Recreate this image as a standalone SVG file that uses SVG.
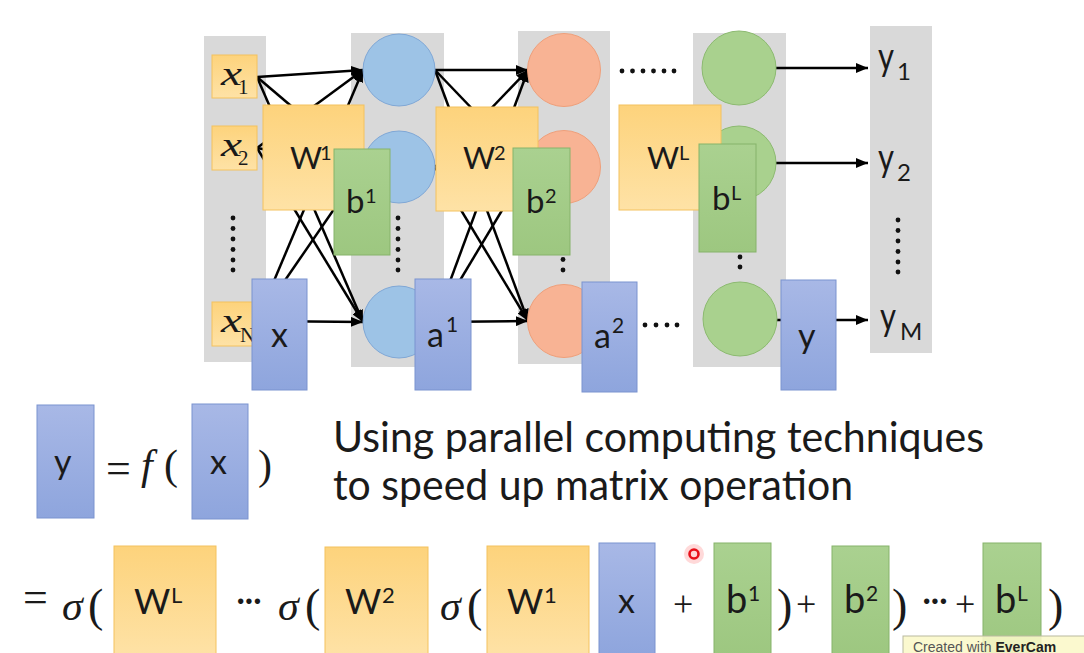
<svg xmlns="http://www.w3.org/2000/svg" width="1084" height="653" viewBox="0 0 1084 653">
<defs>
<linearGradient id="gO" x1="0" y1="0" x2="0" y2="1"><stop offset="0" stop-color="#fdd37c"/><stop offset="1" stop-color="#fee2a6"/></linearGradient>
<linearGradient id="gB" x1="0" y1="0" x2="0" y2="1"><stop offset="0" stop-color="#a8b8e6"/><stop offset="1" stop-color="#8ea5dd"/></linearGradient>
<linearGradient id="gG" x1="0" y1="0" x2="0" y2="1"><stop offset="0" stop-color="#aad190"/><stop offset="1" stop-color="#9dc780"/></linearGradient>
<marker id="ah" markerUnits="userSpaceOnUse" markerWidth="12" markerHeight="10" refX="12" refY="5" orient="auto"><path d="M0,0 L12,5 L0,10 z" fill="#000"/></marker>
<style>
.col{fill:#d9d9d9}
.ob{fill:url(#gO);stroke:#f4c25e;stroke-width:1}
.bb{fill:url(#gB);stroke:#7b93cf;stroke-width:1}
.gb{fill:url(#gG);stroke:#86b36a;stroke-width:1}
.cb{fill:#9dc3e6;stroke:#7fa7d6;stroke-width:1}
.co{fill:#f8b394;stroke:#ef9f7a;stroke-width:1}
.cg{fill:#a9d18e;stroke:#8cba70;stroke-width:1}
.ln{stroke:#000;stroke-width:2.5;fill:none;marker-end:url(#ah)}
.s{font-family:Lato,'Open Sans',sans-serif;fill:#1a1a1a}
.m{font-family:'Liberation Serif','DejaVu Serif',serif;fill:#1a1a1a}
.mi{font-family:'Liberation Serif','DejaVu Serif',serif;font-style:italic;fill:#1a1a1a}
.d{fill:#111}
</style>
</defs>
<rect width="1084" height="653" fill="#fff"/>

<g id="columns">
<rect class="col" x="204" y="36" width="62" height="326"/>
<rect class="col" x="351" y="33" width="93" height="334"/>
<rect class="col" x="518" y="31" width="92" height="333"/>
<rect class="col" x="693" y="33" width="93" height="334"/>
<rect class="col" x="870" y="26" width="62" height="327"/>
</g>

<g id="connectors">
<line class="ln" x1="257" y1="77" x2="363" y2="70"/>
<line class="ln" x1="257" y1="77" x2="363" y2="167"/>
<line class="ln" x1="257" y1="77" x2="363" y2="322"/>
<line class="ln" x1="257" y1="148" x2="363" y2="70"/>
<line class="ln" x1="257" y1="148" x2="363" y2="167"/>
<line class="ln" x1="257" y1="148" x2="363" y2="322"/>
<line class="ln" x1="257" y1="321" x2="363" y2="70"/>
<line class="ln" x1="257" y1="321" x2="363" y2="167"/>
<line class="ln" x1="257" y1="321" x2="363" y2="322"/>
<line class="ln" x1="435" y1="70" x2="528" y2="70"/>
<line class="ln" x1="435" y1="70" x2="528" y2="167"/>
<line class="ln" x1="435" y1="70" x2="528" y2="321"/>
<line class="ln" x1="435" y1="167" x2="528" y2="70"/>
<line class="ln" x1="435" y1="167" x2="528" y2="167"/>
<line class="ln" x1="435" y1="167" x2="528" y2="321"/>
<line class="ln" x1="435" y1="322" x2="528" y2="70"/>
<line class="ln" x1="435" y1="322" x2="528" y2="167"/>
<line class="ln" x1="435" y1="322" x2="528" y2="321"/>
<line class="ln" x1="776" y1="68" x2="868" y2="68"/>
<line class="ln" x1="776" y1="163" x2="868" y2="163"/>
<line class="ln" x1="776" y1="320" x2="868" y2="320"/>
</g>

<g id="inputs">
<g id="x1"><rect class="ob" x="212" y="55" width="45" height="43"/><text class="mi" x="221" y="85" font-size="34" textLength="21" lengthAdjust="spacingAndGlyphs">x</text><text class="m" x="238" y="94" font-size="21">1</text></g>
<g id="x2"><rect class="ob" x="212" y="126" width="45" height="44"/><text class="mi" x="221" y="156" font-size="34" textLength="21" lengthAdjust="spacingAndGlyphs">x</text><text class="m" x="238" y="165" font-size="21">2</text></g>
<g id="xN"><rect class="ob" x="212" y="302" width="45" height="44"/><text class="mi" x="221" y="332" font-size="34" textLength="21" lengthAdjust="spacingAndGlyphs">x</text><text class="m" x="240" y="342" font-size="21">N</text></g>
<g id="dots-in"><circle class="d" cx="233" cy="218" r="2.4"/><circle class="d" cx="233" cy="228.5" r="2.4"/><circle class="d" cx="233" cy="239" r="2.4"/><circle class="d" cx="233" cy="249.5" r="2.4"/><circle class="d" cx="233" cy="260" r="2.4"/><circle class="d" cx="233" cy="270" r="2.4"/></g>
</g>

<g id="layer1">
<circle class="cb" cx="399" cy="70" r="36"/>
<circle class="cb" cx="399" cy="167" r="36"/>
<circle class="cb" cx="399" cy="322" r="36"/>
<circle class="d" cx="398" cy="218" r="2.4"/><circle class="d" cx="398" cy="228.5" r="2.4"/><circle class="d" cx="398" cy="239" r="2.4"/><circle class="d" cx="398" cy="249.5" r="2.4"/><circle class="d" cx="398" cy="260" r="2.4"/><circle class="d" cx="398" cy="270" r="2.4"/>
</g>

<g id="layer2">
<circle class="co" cx="564" cy="70" r="36.5"/>
<circle class="co" cx="564" cy="167" r="36.5"/>
<circle class="co" cx="564" cy="321" r="36.5"/>
<circle class="d" cx="563" cy="218" r="2.4"/><circle class="d" cx="563" cy="228.5" r="2.4"/><circle class="d" cx="563" cy="239" r="2.4"/><circle class="d" cx="563" cy="249.5" r="2.4"/><circle class="d" cx="563" cy="259.5" r="2.4"/><circle class="d" cx="563" cy="270" r="2.4"/>
</g>

<g id="layerL">
<circle class="cg" cx="739" cy="68" r="37"/>
<circle class="cg" cx="739" cy="163" r="37"/>
<circle class="cg" cx="740" cy="319" r="37"/>
<circle class="d" cx="740" cy="215" r="2.4"/><circle class="d" cx="740" cy="225.5" r="2.4"/><circle class="d" cx="740" cy="236" r="2.4"/><circle class="d" cx="740" cy="246.5" r="2.4"/><circle class="d" cx="740" cy="257" r="2.4"/><circle class="d" cx="740" cy="267" r="2.4"/>
</g>

<g id="hdots">
<circle class="d" cx="622" cy="71" r="2.4"/><circle class="d" cx="632.5" cy="71" r="2.4"/><circle class="d" cx="643" cy="71" r="2.4"/><circle class="d" cx="653.5" cy="71" r="2.4"/><circle class="d" cx="664" cy="71" r="2.4"/><circle class="d" cx="674" cy="71" r="2.4"/>
<circle class="d" cx="645" cy="325" r="2.4"/><circle class="d" cx="656" cy="325" r="2.4"/><circle class="d" cx="667" cy="325" r="2.4"/><circle class="d" cx="677" cy="325" r="2.4"/>
</g>

<g id="outputs">
<text class="s" x="878" y="70" font-size="38" textLength="16" lengthAdjust="spacingAndGlyphs">y</text><text class="s" x="897" y="80" font-size="24">1</text>
<text class="s" x="878" y="171" font-size="38" textLength="16" lengthAdjust="spacingAndGlyphs">y</text><text class="s" x="897" y="181" font-size="24">2</text>
<circle class="d" cx="898" cy="220" r="2.4"/><circle class="d" cx="898" cy="230.5" r="2.4"/><circle class="d" cx="898" cy="241" r="2.4"/><circle class="d" cx="898" cy="251.5" r="2.4"/><circle class="d" cx="898" cy="262" r="2.4"/><circle class="d" cx="898" cy="272" r="2.4"/>
<text class="s" x="880" y="330" font-size="38" textLength="16" lengthAdjust="spacingAndGlyphs">y</text><text class="s" x="900" y="340" font-size="24">M</text>
</g>

<g id="W1"><rect class="ob" x="263" y="105" width="101" height="105"/><text class="s" x="290" y="169" font-size="31">W</text><text class="s" x="320" y="160" font-size="20">1</text></g>
<g id="b1"><rect class="gb" x="334" y="149" width="56" height="106"/><text class="s" x="346" y="213" font-size="33">b</text><text class="s" x="365" y="203" font-size="20">1</text></g>
<g id="W2"><rect class="ob" x="436" y="107" width="102" height="104"/><text class="s" x="463" y="169" font-size="31">W</text><text class="s" x="494" y="160" font-size="20">2</text></g>
<g id="b2"><rect class="gb" x="513" y="148" width="57" height="107"/><text class="s" x="526" y="213" font-size="33">b</text><text class="s" x="545" y="203" font-size="20">2</text></g>
<g id="WL"><rect class="ob" x="619" y="105" width="102" height="105"/><text class="s" x="647" y="169" font-size="31">W</text><text class="s" x="679" y="160" font-size="20">L</text></g>
<g id="bL"><rect class="gb" x="699" y="144" width="57" height="108"/><text class="s" x="712" y="210" font-size="33">b</text><text class="s" x="731" y="200" font-size="20">L</text></g>

<g id="xvec"><rect class="bb" x="252" y="279" width="55" height="111"/><text class="s" x="271" y="347" font-size="34">x</text></g>
<g id="a1"><rect class="bb" x="415" y="279" width="56" height="111"/><text class="s" x="427" y="347" font-size="34">a</text><text class="s" x="446" y="332" font-size="21">1</text></g>
<g id="a2"><rect class="bb" x="582" y="282" width="55" height="110"/><text class="s" x="594" y="348" font-size="34">a</text><text class="s" x="612" y="333" font-size="21">2</text></g>
<g id="yvec"><rect class="bb" x="781" y="280" width="55" height="110"/><text class="s" x="798" y="348" font-size="34">y</text></g>

<g id="eq1">
<rect class="bb" x="37" y="405" width="57" height="113"/><text class="s" x="54" y="474" font-size="34">y</text>
<text class="m" x="106" y="483" font-size="44">=</text>
<text class="mi" x="141" y="479" font-size="42">f</text>
<text class="m" x="164" y="479" font-size="42">(</text>
<rect class="bb" x="192" y="404" width="56" height="115"/><text class="s" x="210" y="474" font-size="34">x</text>
<text class="m" x="258" y="479" font-size="42">)</text>
</g>

<g id="caption">
<text class="s" x="333" y="452" font-size="42" textLength="651" lengthAdjust="spacingAndGlyphs">Using parallel computing techniques</text>
<text class="s" x="333" y="500" font-size="42" textLength="520" lengthAdjust="spacingAndGlyphs">to speed up matrix operation</text>
</g>

<g id="eq2">
<text class="m" x="23" y="612" font-size="44">=</text>
<text class="mi" x="62" y="620" font-size="42">σ</text><text class="m" x="88" y="621" font-size="46">(</text>
<rect class="ob" x="114" y="546" width="102" height="110"/><text class="s" x="134" y="614" font-size="35">W</text><text class="s" x="171" y="603" font-size="22">L</text>
<text class="s" x="236" y="612" font-size="36" letter-spacing="-1">···</text>
<text class="mi" x="278" y="620" font-size="42">σ</text><text class="m" x="305" y="621" font-size="46">(</text>
<rect class="ob" x="325" y="547" width="103" height="109"/><text class="s" x="345" y="614" font-size="35">W</text><text class="s" x="382" y="603" font-size="22">2</text>
<text class="mi" x="440" y="620" font-size="42">σ</text><text class="m" x="467" y="621" font-size="46">(</text>
<rect class="ob" x="487" y="546" width="102" height="110"/><text class="s" x="507" y="614" font-size="35">W</text><text class="s" x="544" y="603" font-size="22">1</text>
<rect class="bb" x="599" y="543" width="56" height="113"/><text class="s" x="618" y="613" font-size="34">x</text>
<text class="m" x="673" y="616" font-size="36">+</text>
<rect class="gb" x="714" y="543" width="57" height="113"/><text class="s" x="726" y="613" font-size="38">b</text><text class="s" x="748" y="601" font-size="21">1</text>
<text class="m" x="777" y="621" font-size="46">)</text>
<text class="m" x="796" y="616" font-size="36">+</text>
<rect class="gb" x="832" y="546" width="57" height="110"/><text class="s" x="844" y="613" font-size="38">b</text><text class="s" x="866" y="601" font-size="21">2</text>
<text class="m" x="892" y="621" font-size="46">)</text>
<text class="s" x="922" y="612" font-size="36" letter-spacing="-1">···</text>
<text class="m" x="955" y="616" font-size="36">+</text>
<rect class="gb" x="983" y="543" width="58" height="113"/><text class="s" x="995" y="613" font-size="38">b</text><text class="s" x="1017" y="601" font-size="21">L</text>
<text class="m" x="1048" y="621" font-size="46">)</text>
</g>

<g id="cursor">
<circle cx="694" cy="554" r="10" fill="#ff6666" opacity="0.25"/>
<circle cx="694" cy="554" r="4.5" fill="#ffd6d6" stroke="#e8101a" stroke-width="2.6"/>
</g>

<g id="watermark">
<rect x="903" y="636" width="190" height="22" fill="#fbf8c8" fill-opacity="0.88" stroke="#b9b9a0" stroke-width="1"/>
<text x="913" y="652" font-family="'Liberation Sans',Arial,sans-serif" font-size="14" fill="#555">Created with <tspan font-weight="bold" fill="#222">EverCam</tspan></text>
</g>
</svg>
